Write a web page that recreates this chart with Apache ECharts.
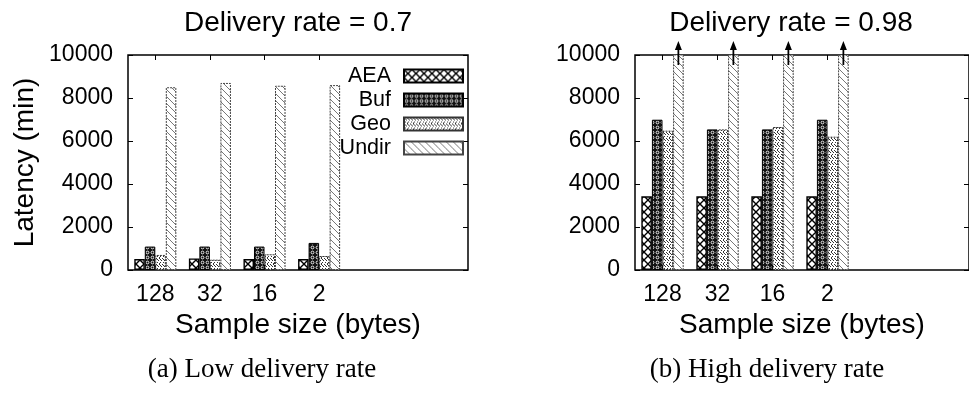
<!DOCTYPE html>
<html>
<head>
<meta charset="utf-8">
<script src="https://cdn.jsdelivr.net/npm/echarts@6/dist/echarts.min.js"></script>
<style>
  html, body { margin: 0; padding: 0; background: #fff; }
  #chart { width: 969px; height: 393px; }
</style>
</head>
<body>
<div id="chart"></div>
<script>
// Categories and series
const sampleSizes = ['128', '32', '16', '2'];
const seriesNames = ['AEA', 'Buf', 'Geo', 'Undir'];
const yTicks = [0, 2000, 4000, 6000, 8000, 10000];

// Latency (min), delivery rate = 0.7
const lowAEA = [510, 540, 510, 510];
const lowBuf = [1090, 1090, 1090, 1260];
const lowGeo = [700, 480, 730, 650];
const lowUndir = [8500, 8700, 8570, 8600];

// Latency (min), delivery rate = 0.98 (Undir lies above the plotted range)
const highAEA = [3430, 3430, 3430, 3430];
const highBuf = [6990, 6540, 6540, 6990];
const highGeo = [6480, 6540, 6650, 6200];
const highUndir = [12000, 12000, 12000, 12000];

const yMin = yTicks[0];
const yMax = yTicks[yTicks.length - 1];
const yStep = yTicks[1] - yTicks[0];

const SANS = '"Liberation Sans", Arial, sans-serif';
const SERIF = '"Liberation Serif", "Times New Roman", serif';

// Small repeating tiles used as hatch fills
function tile(w, h, draw) {
  const c = document.createElement('canvas');
  c.width = w; c.height = h;
  const g = c.getContext('2d');
  g.fillStyle = '#fff';
  g.fillRect(0, 0, w, h);
  draw(g, w, h);
  return { image: c, repeat: 'repeat' };
}

const fills = {
  AEA: tile(8, 8, g => {
    g.strokeStyle = '#000'; g.lineWidth = 1.4;
    g.beginPath();
    g.moveTo(-1, -1); g.lineTo(9, 9);
    g.moveTo(9, -1); g.lineTo(-1, 9);
    g.stroke();
  }),
  Buf: tile(5, 5, g => {
    g.fillStyle = '#111'; g.fillRect(0, 0, 5, 5);
    g.strokeStyle = '#fff'; g.lineWidth = 0.9;
    g.beginPath(); g.arc(2.5, 2.5, 1.4, 0, Math.PI * 2); g.stroke();
  }),
  Geo: tile(6, 6, g => {
    g.fillStyle = '#333';
    [[0, 0], [2, 2], [4, 4], [3, 0], [5, 2], [1, 4], [1, 1], [4, 1], [3, 5]].forEach(([x, y]) => g.fillRect(x, y, 1, 1));
  }),
  Undir: tile(7, 7, g => {
    g.strokeStyle = '#777'; g.lineWidth = 1;
    g.beginPath(); g.moveTo(-1, -1); g.lineTo(8, 8); g.stroke();
  })
};

const styles = {
  AEA: { color: fills.AEA, borderColor: '#000', borderWidth: 1.4 },
  Buf: { color: fills.Buf, borderColor: '#000', borderWidth: 1 },
  Geo: { color: fills.Geo, borderColor: '#333', borderWidth: 1, borderType: [2, 1] },
  Undir: { color: fills.Undir, borderColor: '#444', borderWidth: 1, borderType: [2, 1] }
};

// Arrow marking bars that run past the top of the axis
const arrowPath = 'path://M4,0 L8,9 L5,9 L5,24 L3,24 L3,9 L0,9 Z';

function barSeries(name, values, xIdx, yIdx, offScale) {
  const s = {
    type: 'bar',
    name: name,
    data: values,
    xAxisIndex: xIdx,
    yAxisIndex: yIdx,
    barGap: '0%',
    barCategoryGap: '23%',
    itemStyle: styles[name],
    emphasis: { disabled: true },
    silent: true,
    animation: false
  };
  if (offScale) {
    s.markPoint = {
      symbol: arrowPath,
      symbolSize: [7, 24],
      symbolOffset: [0, -2],
      itemStyle: { color: '#000', borderWidth: 0 },
      label: { show: false },
      silent: true,
      animation: false,
      data: sampleSizes.map((c, i) => values[i] > yMax ? { coord: [c, yMax] } : null).filter(Boolean)
    };
  }
  return s;
}

const tickLabel = { color: '#000', fontSize: 23, fontFamily: SANS };

// Frame (full plot box) and bar area for one panel
function frameGrid(left) {
  return { left: left, top: 55, width: 340, height: 215, show: true,
           borderColor: '#000', borderWidth: 1.5, backgroundColor: 'transparent' };
}
function barGrid(left, band) {
  return { left: left, top: 55, width: band * sampleSizes.length, height: 215 };
}

function frameX(gridIndex) {
  return {
    gridIndex, type: 'value', min: 0, max: 1,
    axisLine: { show: false }, axisTick: { show: false }, axisLabel: { show: false }, splitLine: { show: false },
    name: 'Sample size (bytes)', nameLocation: 'middle', nameGap: 41,
    nameTextStyle: { color: '#000', fontSize: 28, fontFamily: SANS }
  };
}
function catX(gridIndex, pos) {
  return {
    gridIndex, type: 'category', data: sampleSizes, position: pos,
    axisLine: { show: false },
    axisTick: { show: true, inside: true, alignWithLabel: true, length: 5, lineStyle: { color: '#000', width: 1 } },
    axisLabel: pos === 'bottom' ? Object.assign({ margin: 13 }, tickLabel) : { show: false },
    splitLine: { show: false }
  };
}
function frameY(gridIndex, pos, withLabels, name) {
  const a = {
    gridIndex, type: 'value', min: yMin, max: yMax, interval: yStep, position: pos,
    axisLine: { show: false },
    axisTick: { show: true, inside: true, length: 5, lineStyle: { color: '#000', width: 1 } },
    axisLabel: withLabels ? Object.assign({ margin: 15, formatter: v => String(v) }, tickLabel) : { show: false },
    splitLine: { show: false }
  };
  if (name) {
    a.name = name;
    a.nameLocation = 'middle';
    a.nameGap = 89;
    a.nameTextStyle = { color: '#000', fontSize: 28, fontFamily: SANS };
  }
  return a;
}
function hiddenY(gridIndex) {
  return { gridIndex, type: 'value', min: yMin, max: yMax, interval: yStep, show: false, splitLine: { show: false } };
}

const lowValues = [lowAEA, lowBuf, lowGeo, lowUndir];
const highValues = [highAEA, highBuf, highGeo, highUndir];

const titleFont = '28px ' + SANS;
const captionFont = '27px ' + SERIF;

const option = {
  animation: false,
  backgroundColor: '#fff',
  grid: [frameGrid(128), barGrid(128, 54.6), frameGrid(635), barGrid(635, 55)],
  xAxis: [frameX(0), catX(1, 'bottom'), catX(1, 'top'), frameX(2), catX(3, 'bottom'), catX(3, 'top')],
  yAxis: [
    frameY(0, 'left', true, 'Latency (min)'), frameY(0, 'right', false), hiddenY(1),
    frameY(2, 'left', true), frameY(2, 'right', false), hiddenY(3)
  ],
  legend: {
    orient: 'vertical',
    align: 'right',
    right: 505,
    top: 65,
    padding: 0,
    itemWidth: 59,
    itemHeight: 13,
    itemGap: 2,
    selectedMode: false,
    icon: 'rect',
    data: seriesNames,
    textStyle: { color: '#000', fontSize: 21.5, lineHeight: 21, fontFamily: SANS, padding: [0, 8, 0, 0] }
  },
  series: [
    ...seriesNames.map((n, i) => barSeries(n, lowValues[i], 1, 2, false)),
    ...seriesNames.map((n, i) => barSeries(n, highValues[i], 4, 5, n === 'Undir'))
  ],
  graphic: [
    { type: 'text', x: 298, y: 23, silent: true,
      style: { text: 'Delivery rate = 0.7', fill: '#000', font: titleFont,
               textAlign: 'center', textVerticalAlign: 'middle', align: 'center', verticalAlign: 'middle' } },
    { type: 'text', x: 791, y: 23, silent: true,
      style: { text: 'Delivery rate = 0.98', fill: '#000', font: titleFont,
               textAlign: 'center', textVerticalAlign: 'middle', align: 'center', verticalAlign: 'middle' } },
    { type: 'text', x: 262, y: 370, silent: true,
      style: { text: '(a) Low delivery rate', fill: '#000', font: captionFont,
               textAlign: 'center', textVerticalAlign: 'middle', align: 'center', verticalAlign: 'middle' } },
    { type: 'text', x: 767, y: 370, silent: true,
      style: { text: '(b) High delivery rate', fill: '#000', font: captionFont,
               textAlign: 'center', textVerticalAlign: 'middle', align: 'center', verticalAlign: 'middle' } }
  ]
};

const chart = echarts.init(document.getElementById('chart'), null, { renderer: 'canvas' });
chart.setOption(option);
</script>
</body>
</html>
